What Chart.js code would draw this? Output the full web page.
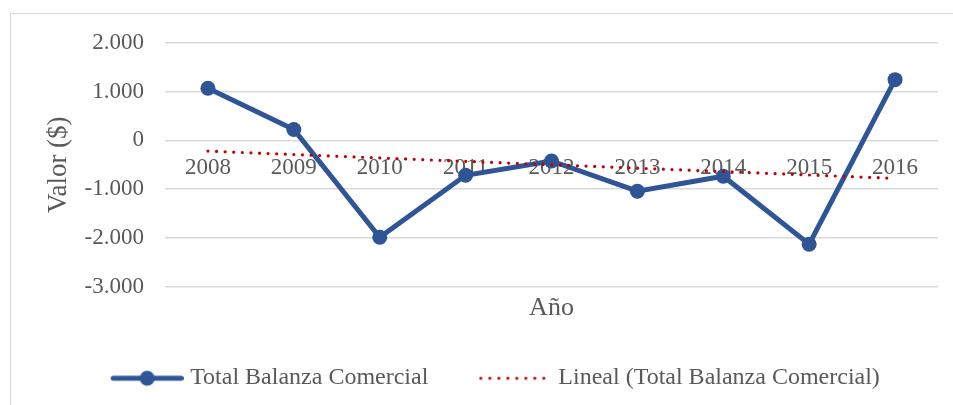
<!DOCTYPE html>
<html>
<head>
<meta charset="utf-8">
<script src="https://cdn.jsdelivr.net/npm/chart.js@4"></script>
<style>
  body { margin: 0; background: #fff; }
  #wrap { position: relative; width: 953px; height: 405px; overflow: hidden; }
  #frame { position: absolute; left: 10px; top: 13px; width: 960px; height: 420px;
           border-left: 1.5px solid #d9d9d9; border-top: 1.5px solid #d9d9d9; }
  canvas { position: absolute; left: 0; top: 0; }
</style>
</head>
<body>
<div id="wrap">
  <div id="frame"></div>
  <canvas id="balanza-chart" width="953" height="405"></canvas>
</div>
<script>
const years = ['2008', '2009', '2010', '2011', '2012', '2013', '2014', '2015', '2016'];
const totalBalanza = [1070, 225, -1990, -716, -423, -1043, -736, -2133, 1247];
const linealBalanza = [-220, -290, -360, -430, -500, -570, -640, -710, -780];
const valorTicks = [-3000, -2000, -1000, 0, 1000, 2000];

const BLUE = '#2f5597';
const RED = '#c00000';
const GREY = '#595959';
const FONT = "'Liberation Serif', 'Times New Roman', serif";

function formatValor(v) {
    const abs = Math.abs(v);
    let s = String(abs);
    if (abs >= 1000) {
        s = Math.floor(abs / 1000) + '.' + String(abs % 1000).padStart(3, '0');
    }
    return (v < 0 ? '-' : '') + s;
}

// legend swatches: line with marker, and dotted trend line
function lineSwatch() {
    const c = document.createElement('canvas');
    c.width = 84; c.height = 18;
    const ctx = c.getContext('2d');
    ctx.strokeStyle = BLUE;
    ctx.lineWidth = 5;
    ctx.lineCap = 'round';
    ctx.beginPath();
    ctx.moveTo(13.5, 9);
    ctx.lineTo(81.5, 9);
    ctx.stroke();
    ctx.fillStyle = BLUE;
    ctx.beginPath();
    ctx.arc(47.5, 9, 7.5, 0, Math.PI * 2);
    ctx.fill();
    return c;
}

function dotSwatch() {
    const c = document.createElement('canvas');
    c.width = 73; c.height = 18;
    const ctx = c.getContext('2d');
    ctx.fillStyle = RED;
    for (let i = 0; i < 8; i++) {
        ctx.beginPath();
        ctx.arc(7.5 + i * 9, 9, 1.6, 0, Math.PI * 2);
        ctx.fill();
    }
    return c;
}

const swatches = [lineSwatch(), dotSwatch()];

const legendNudge = {
    id: 'legendNudge',
    afterLayout(chart) {
        const lg = chart.legend;
        lg.left += 18.5; lg.right += 18.5;
        lg.top -= 2.5; lg.bottom -= 2.5;
    }
};

function main() {
    const canvas = document.querySelector('#balanza-chart');

    new Chart(canvas.getContext('2d'), {
        type: 'line',
        data: {
            labels: years,
            datasets: [{
                label: 'Total Balanza Comercial',
                data: totalBalanza,
                borderColor: BLUE,
                backgroundColor: BLUE,
                borderWidth: 5,
                pointRadius: 7.5,
                pointHoverRadius: 7.5,
                pointBorderWidth: 0,
                tension: 0,
                order: 1
            }, {
                label: 'Lineal (Total Balanza Comercial)',
                data: linealBalanza,
                borderColor: RED,
                backgroundColor: RED,
                borderWidth: 3.2,
                borderDash: [0, 8.6],
                borderCapStyle: 'round',
                pointRadius: 0,
                tension: 0,
                order: 0
            }]
        },
        options: {
            responsive: false,
            animation: false,
            layout: { padding: { left: 10, right: 15, top: 43, bottom: 2.3 } },
            scales: {
                x: {
                    offset: true,
                    position: { y: 0 },
                    grid: { display: false, drawTicks: false, offset: true },
                    border: { display: false },
                    ticks: { color: GREY, font: { family: FONT, size: 23 }, padding: 14, maxRotation: 0 },
                    afterFit(scale) { scale.height = 0; }
                },
                x2: {
                    type: 'category',
                    offset: true,
                    position: 'bottom',
                    grid: { display: false, drawTicks: false },
                    border: { display: false },
                    ticks: { display: false },
                    title: { display: true, text: 'Año', color: GREY, font: { family: FONT, size: 26 }, padding: { top: 6, bottom: 0 } }
                },
                y: {
                    min: valorTicks[0],
                    max: valorTicks[valorTicks.length - 1],
                    afterBuildTicks(scale) { scale.ticks = valorTicks.map(v => ({ value: v })); },
                    grid: { color: '#d9d9d9', lineWidth: 1.5, drawTicks: false },
                    border: { display: false },
                    ticks: { color: GREY, font: { family: FONT, size: 23 }, padding: 21, callback: v => formatValor(v) },
                    title: { display: true, text: 'Valor ($)', color: GREY, font: { family: FONT, size: 27 }, padding: { top: 33, bottom: 0 } },
                    afterFit(scale) { scale.width = 155; }
                }
            },
            plugins: {
                tooltip: { enabled: false },
                legend: {
                    position: 'bottom',
                    maxHeight: 80,
                    labels: {
                        color: GREY,
                        font: { family: FONT, size: 24 },
                        usePointStyle: true,
                        pointStyleWidth: 73,
                        padding: 45,
                        sort: (a, b) => a.datasetIndex - b.datasetIndex,
                        generateLabels(chart) {
                            const items = Chart.defaults.plugins.legend.labels.generateLabels(chart);
                            items.forEach(item => { item.pointStyle = swatches[item.datasetIndex]; });
                            return items;
                        }
                    }
                }
            }
        },
        plugins: [legendNudge]
    });
}

main()
</script>
</body>
</html>
